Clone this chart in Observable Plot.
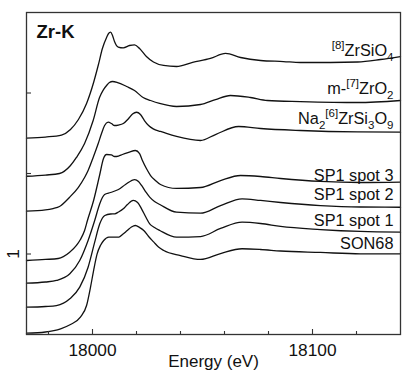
<!DOCTYPE html>
<html><head><meta charset="utf-8">
<script src="https://cdn.jsdelivr.net/npm/d3@7"></script>
<script src="https://cdn.jsdelivr.net/npm/@observablehq/plot@0.6"></script>
<style>body{margin:0;background:#fff} svg{display:block}</style>
</head><body><div id="chart"></div>
<script>
// Normalised Zr K-edge XANES spectra, vertically offset: [energy (eV), absorbance]
const zrsio4 = [[17970,2.439],[17978.6,2.453],[17985.9,2.478],[17990,2.547],[17993.6,2.671],[17997.3,2.870],[18000.5,3.131],[18002.7,3.354],[18004.5,3.553],[18006.4,3.689],[18007.3,3.739],[18008.2,3.755],[18009.1,3.714],[18010,3.640],[18011.7,3.571],[18014,3.561],[18016.8,3.590],[18019.1,3.599],[18021.4,3.553],[18024.5,3.453],[18027.7,3.385],[18032.3,3.342],[18038.2,3.329],[18045.5,3.379],[18053.6,3.429],[18060.5,3.491],[18067.3,3.441],[18076.4,3.404],[18086.8,3.391],[18094.5,3.379],[18108.2,3.379],[18120.5,3.385],[18130.9,3.416],[18140,3.453]];
const mzro2 = [[17970,1.966],[17978.6,1.981],[17985,2.0],[17990,2.099],[17992.7,2.199],[17996.4,2.373],[18000.3,2.658],[18003.2,2.944],[18005,3.043],[18006.4,3.093],[18007.7,3.130],[18009.1,3.143],[18011.4,3.130],[18015.5,3.081],[18019.1,3.031],[18023,2.944],[18026.4,2.907],[18030.5,2.870],[18038.2,2.832],[18049.1,2.857],[18055.9,2.919],[18062.7,2.969],[18071.8,2.944],[18079.5,2.907],[18094.5,2.894],[18120.5,2.882],[18140,2.907]];
const na2zrsi3o9 = [[17970,1.532],[17978.6,1.547],[17982.1,1.565],[17985,1.590],[17989.5,1.702],[17993.5,1.826],[17996.4,1.950],[17998,2.037],[18000.3,2.199],[18002.6,2.373],[18004.1,2.497],[18005.5,2.596],[18007.1,2.637],[18008.6,2.621],[18010,2.596],[18011.8,2.602],[18014,2.621],[18016.4,2.683],[18018.2,2.739],[18020,2.761],[18021.8,2.733],[18023.6,2.658],[18025.5,2.596],[18027.6,2.555],[18030.9,2.522],[18033.6,2.497],[18038.2,2.460],[18049.1,2.410],[18055.9,2.484],[18066.4,2.584],[18076.4,2.559],[18094.5,2.534],[18120.5,2.516],[18140,2.513]];
const sp1spot3 = [[17970,0.919],[17978.6,0.932],[17984.4,0.944],[17989.5,1.019],[17992.7,1.106],[17994.5,1.180],[17996.4,1.292],[17997.7,1.416],[18000.5,1.665],[18003.2,1.975],[18005,2.186],[18006.4,2.236],[18008.6,2.230],[18010,2.211],[18011.8,2.217],[18013.6,2.236],[18016.4,2.261],[18019.5,2.286],[18021.4,2.248],[18022.7,2.161],[18024.5,2.062],[18026.4,1.975],[18028.6,1.913],[18030.9,1.863],[18038.2,1.814],[18049.1,1.826],[18058.2,1.913],[18067.3,1.975],[18076.4,1.963],[18085.5,1.938],[18103.6,1.901],[18121.8,1.888],[18140,1.894]];
const sp1spot2 = [[17970,0.637],[17978.6,0.652],[17983.6,0.671],[17989.7,0.754],[17994.2,0.919],[17998,1.168],[18001,1.416],[18003.3,1.624],[18004.5,1.702],[18005.5,1.739],[18008.2,1.764],[18011.8,1.801],[18015,1.863],[18019.2,1.925],[18020.9,1.901],[18022.3,1.851],[18024.1,1.776],[18026,1.706],[18028.2,1.652],[18030.6,1.615],[18038.2,1.519],[18049.1,1.507],[18058.2,1.602],[18068,1.686],[18076.4,1.665],[18085.5,1.640],[18103.6,1.602],[18121.8,1.584],[18140,1.581]];
const sp1spot1 = [[17970,0.339],[17978.6,0.348],[17983.6,0.360],[17989.7,0.443],[17994.2,0.588],[17998,0.836],[18001,1.147],[18003.3,1.375],[18005.6,1.478],[18008.2,1.497],[18010.1,1.499],[18011.8,1.522],[18014,1.561],[18015.9,1.615],[18018.5,1.665],[18020.5,1.640],[18022.3,1.561],[18024.1,1.466],[18026,1.375],[18028.2,1.329],[18030.6,1.292],[18038.2,1.209],[18049.1,1.217],[18058.2,1.317],[18068,1.395],[18076.4,1.379],[18085.5,1.342],[18103.6,1.304],[18121.8,1.280],[18140,1.271]];
const son68 = [[17970,0.016],[17978.6,0.031],[17985.5,0.071],[17990,0.124],[17994.5,0.215],[17997.3,0.360],[17999.1,0.588],[18000.5,0.795],[18002.1,1.002],[18003.6,1.106],[18005.1,1.168],[18007.4,1.209],[18009.5,1.209],[18012,1.209],[18013.6,1.242],[18015.8,1.292],[18017.7,1.335],[18019.5,1.354],[18021.4,1.329],[18023.3,1.292],[18025.5,1.217],[18027.9,1.147],[18030,1.087],[18032.4,1.043],[18040,0.981],[18049.1,0.932],[18058.2,1.006],[18068,1.065],[18076.4,1.056],[18085.5,1.037],[18103.6,1.019],[18121.8,1.002],[18140,1.002]];

const seriesNames = ["ZrSiO4", "m-ZrO2", "Na2ZrSi3O9", "SP1 spot 3", "SP1 spot 2", "SP1 spot 1", "SON68"];
const seriesData = [zrsio4, mzro2, na2zrsi3o9, sp1spot3, sp1spot2, sp1spot1, son68];
// label markup: {^..} superscript, {_..} subscript
const labelText = ["{^[8]}ZrSiO{_4}", "m-{^[7]}ZrO{_2}", "Na{_2}{^[6]}ZrSi{_3}O{_9}", "SP1 spot 3", "SP1 spot 2", "SP1 spot 1", "SON68"];
const labelY = [3.46, 2.99, 2.62, 1.913, 1.665, 1.354, 1.065];
const labelE = 18136.8;
const xTicksMajor = [18000, 18100];
const xTicksMinor = [17980, 18020, 18040, 18060, 18080, 18120];
const yTicks = [1, 2, 3];
const yTickLabels = [1];
const panelTitle = "Zr-K";
const xLabel = "Energy (eV)";

const rows = seriesData.flatMap((s, i) => s.map(([E, v]) => ({series: seriesNames[i], E, v})));
const labels = labelText.map((t, i) => ({t, v: labelY[i]}));

const W = 404, H = 371, mL = 26, mR = 4, mT = 12, mB = 37;
const pw = W - mL - mR, ph = H - mT - mB;

const chart = Plot.plot({
  width: W, height: H,
  marginLeft: mL, marginRight: mR, marginTop: mT, marginBottom: mB,
  style: {fontFamily: "'Liberation Sans', Arial, Helvetica, sans-serif", background: "#fff", color: "#111"},
  x: {domain: [17970, 18140], axis: null},
  y: {domain: [0, 4], axis: null},
  marks: [
    Plot.line(rows, {x: "E", y: "v", z: "series", stroke: "#111", strokeWidth: 1.3, curve: "monotone-x"}),
    Plot.tickX(xTicksMajor, {x: d => d, insetTop: ph - 5, stroke: "#333", strokeWidth: 1.1}),
    Plot.tickX(xTicksMinor, {x: d => d, insetTop: ph - 3, stroke: "#333", strokeWidth: 1.1}),
    Plot.tickY(yTicks, {y: d => d, insetRight: pw - 5, stroke: "#333", strokeWidth: 1.1}),
    Plot.frame({stroke: "#333", strokeWidth: 1.3}),
    Plot.text(xTicksMajor, {x: d => d, text: d => String(d), frameAnchor: "bottom", dy: 9, lineAnchor: "top", fontSize: 17.3, fill: "#111"}),
    Plot.text(yTickLabels, {y: d => d, text: d => String(d), frameAnchor: "left", dx: -13.5, rotate: -90, lineAnchor: "middle", textAnchor: "middle", fontSize: 17.3, fill: "#111"}),
    Plot.text([xLabel], {frameAnchor: "bottom", dy: 32, lineAnchor: "bottom", fontSize: 17, fill: "#111"}),
    Plot.text([panelTitle], {frameAnchor: "top-left", dx: 10, dy: 25, lineAnchor: "bottom", textAnchor: "start", fontSize: 18.5, fontWeight: "bold", fill: "#111"}),
    Plot.text(labels, {x: () => labelE, y: "v", text: "t", textAnchor: "end", lineAnchor: "bottom", fontSize: 16.3, fill: "#111"})
  ]
});

// turn {^..}/{_..} markup into real superscript / subscript tspans
const NS = "http://www.w3.org/2000/svg";
chart.querySelectorAll("text").forEach(el => {
  const s = el.textContent;
  if (!s.includes("{")) return;
  el.textContent = "";
  const re = /\{([_^])([^}]*)\}|([^{]+)/g;
  let m, cur = 0;
  while ((m = re.exec(s))) {
    const t = document.createElementNS(NS, "tspan");
    const target = m[3] ? 0 : (m[1] === "^" ? -6.5 : 5);
    const dy = target - cur; cur = target;
    if (dy) t.setAttribute("dy", dy);
    if (!m[3]) t.setAttribute("font-size", "11.5");
    t.textContent = m[3] || m[2];
    el.appendChild(t);
  }
});

document.getElementById("chart").appendChild(chart);
</script>
</body></html>
